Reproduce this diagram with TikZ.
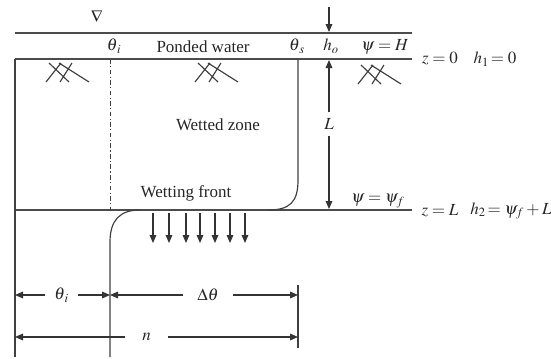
\documentclass[tikz,border=0pt]{standalone}
\usepackage{mathptmx}
\usepackage{fontspec}
\setmainfont{Liberation Serif}
\usetikzlibrary{arrows.meta, positioning, calc}

\begin{document}
\begin{tikzpicture}[
        x=0.03cm, y=-0.03cm,
        lbl/.style={font=\fontsize{14.5}{16}\selectfont, text=black!85, inner sep=1pt},
        ground/.style={line width=1.6pt, draw=black!70},
        wall/.style={line width=1pt, draw=black!75},
        hatch/.style={line width=1pt, draw=black!75},
        arrow/.style={-{Triangle[length=2.4mm, width=2mm]}, line width=0.9pt, draw=black!80},
        gap/.style={lbl, minimum width=#1, inner sep=0pt},
        soil/.pic={\draw[hatch] (0,19) -- (15,0) (14,19) -- (26,0) (3,0) -- (23,19) (13,0) -- (43,19);}
    ]
        \useasboundingbox (0,0) rectangle (551,358);

        % Water table and surfaces
        \node[lbl, font=\Large] (tri) at (97,17) {$\nabla$};
        \draw[ground] (15,33) -- (412,33);
        \draw[ground] (15,59) -- (412,59);
        \draw[ground] (15,210) -- (412,210);
        \pic at (46,63) {soil};
        \pic at (195,63) {soil};
        \pic at (358,65) {soil};

        % Soil column
        \draw[wall] (15,59) -- (15,357);
        \draw[wall, dash pattern=on 4pt off 2pt on 1pt off 2pt, line width=0.8pt] (110,59) -- (110,210);
        \draw[wall] (298,59) -- (298,180) .. controls (298,202) and (290,210) .. (268,210);
        \draw[wall] (140,210) .. controls (120,210) and (110,220) .. (110,242) -- (110,357);
        \draw[wall] (298,285) -- (298,348);

        % Labels on top
        \node[lbl] (thi) at (114,46) {$\theta_{\,i}$};
        \node[lbl] (pw) at (203,47) {Ponded water};
        \node[lbl] (ths) at (297,46) {$\theta_{\,s}$};
        \node[lbl] (ho) at (331,46) {$h_o$};
        \node[lbl] (psiH) at (385,47) {$\psi = H$};
        \node[lbl] (z0) at (440,59) {$z = 0$};
        \node[lbl] (h1) at (495,59) {$h_1\!= 0$};
        \node[lbl] (wz) at (218,125) {Wetted zone};
        \node[lbl] (wf) at (186,193) {Wetting front};
        \node[lbl] (psif) at (378,201) {$\psi = \psi_f$};
        \node[lbl] (zL) at (440,211) {$z = L$};
        \node[lbl] (h2) at (511,211) {$h_2\!= \psi_f + L$};

        % Depth arrows
        \coordinate (hoTop) at (329,7);
        \coordinate (hoEnd) at (329,32);
        \draw[arrow] (hoTop) -- (hoEnd);
        \node[lbl, inner sep=5pt] (L) at (329,124) {$L$};
        \coordinate (Ltop) at (329,60);
        \coordinate (Lbot) at (329,209);
        \draw[arrow] (L) -- (Ltop);
        \draw[arrow] (L) -- (Lbot);

        % Infiltration arrows
        \foreach \x [count=\i] in {153,169,186,200,215,230,245} {
            \coordinate (f\i) at (\x,213);
            \coordinate (g\i) at (\x,243);
            \draw[arrow] (f\i) -- (g\i);
        }

        % Moisture dimensions
        \coordinate (d0) at (15,295);
        \coordinate (d1) at (110,295);
        \coordinate (d2) at (298,295);
        \coordinate (n0) at (15,337);
        \coordinate (n2) at (298,337);
        \node[gap=1cm] (ti) at (61.5,295) {$\theta_{\,i}$};
        \node[gap=1.5cm] (dt) at (208,295) {$\Delta\theta$};
        \node[gap=1.3cm] (nn) at (146.5,337) {$n$};
        \draw[arrow] (ti.west) -- (d0);
        \draw[arrow] (ti.east) -- (d1);
        \draw[arrow] (dt.west) -- (d1);
        \draw[arrow] (dt.east) -- (d2);
        \draw[arrow] (nn.west) -- (n0);
        \draw[arrow] (nn.east) -- (n2);
    \end{tikzpicture}
\end{document}
